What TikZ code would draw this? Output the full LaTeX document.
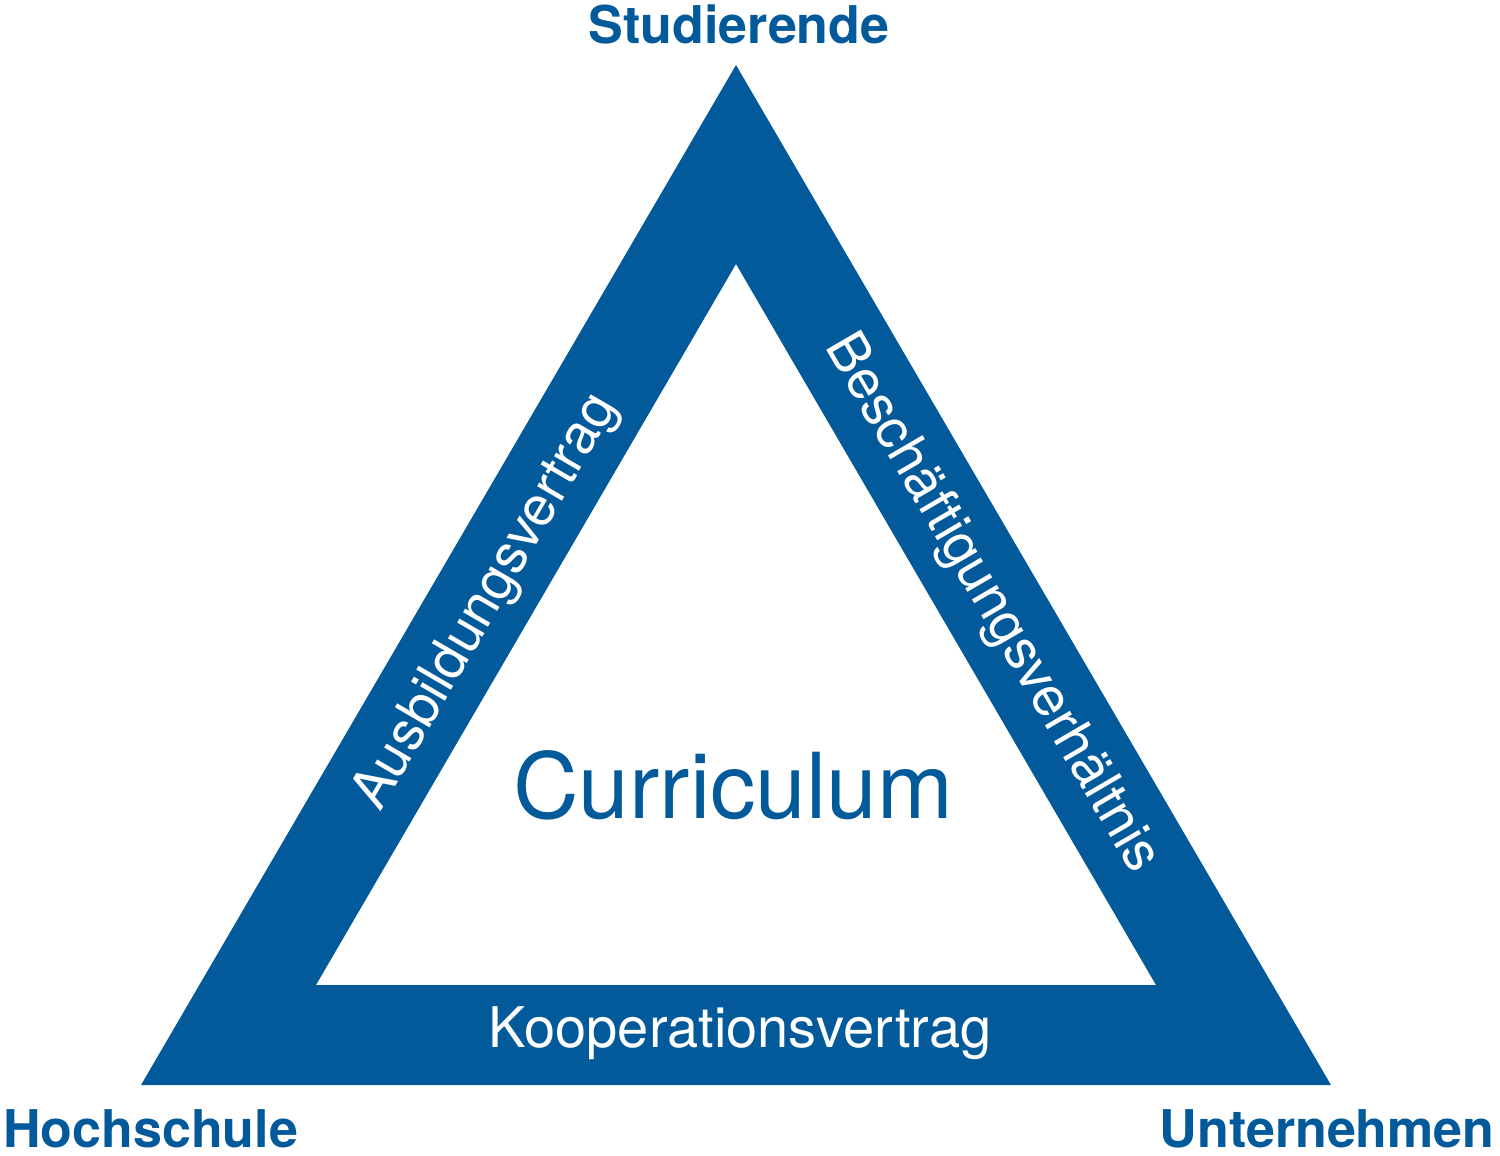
\documentclass[tikz,border=0pt]{standalone}
\usepackage{fontspec}
\setmainfont{TeX Gyre Heros}
\definecolor{hsblue}{HTML}{035A9A}
\begin{document}
\begin{tikzpicture}[x=0.5pt,y=-0.5pt,
  corner/.style={font=\fontsize{26}{30}\selectfont\bfseries, text=hsblue, inner sep=0pt},
  bandtext/.style={font=\fontsize{27.5}{32}\selectfont, text=white, inner sep=0pt},
  centertext/.style={font=\fontsize{45.5}{52}\selectfont, text=hsblue, inner sep=0pt}]
\useasboundingbox (0,0) rectangle (1500,1156);
\fill[hsblue,even odd rule] (736,65) -- (1331,1085) -- (141,1085) -- cycle
  (736,264) -- (1156,985) -- (316,985) -- cycle;
\node[corner, anchor=base] (stud) at (739,44) {Studierende};
\node[corner, anchor=base west] (hoch) at (3,1147) {Hochschule};
\node[corner, anchor=base east] (unt) at (1495,1147) {Unternehmen};
\node[centertext, anchor=base] (curr) at (733,818) {Curriculum};
\node[bandtext, anchor=base, font=\fontsize{28}{32}\selectfont] (koop) at (740,1047) {Kooperationsvertrag};
\node[bandtext, rotate=59.74] (ausb) at (487,602) {Ausbildungsvertrag};
\node[bandtext, rotate=-59.74] (besch) at (991,604) {Beschäftigungsverhältnis};
\end{tikzpicture}
\end{document}
